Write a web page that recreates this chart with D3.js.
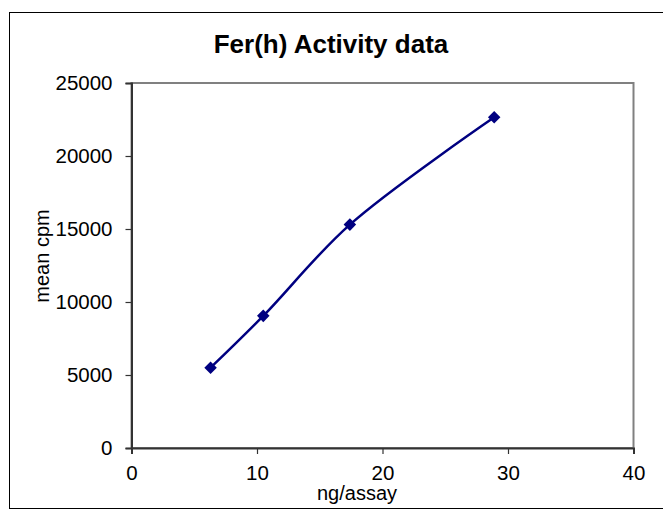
<!DOCTYPE html>
<html>
<head>
<meta charset="utf-8">
<script src="https://cdn.jsdelivr.net/npm/d3@7"></script>
<style>
  body { margin: 0; background: #fff; }
  text { font-family: "Liberation Sans", Arial, sans-serif; }
</style>
</head>
<body>
<svg width="663" height="516"></svg>
<script>
// data
const ngPerAssay = [6.3, 10.5, 17.4, 28.9];
const meanCpm = [5500, 9050, 15300, 22650];
const xTicks = [0, 10, 20, 30, 40];
const yTicks = [0, 5000, 10000, 15000, 20000, 25000];

const svg = d3.select("svg");
const plotLeft = 131.5, plotRight = 633.5, plotTop = 83, plotBottom = 448;

// outer frame
svg.append("rect")
    .attr("x", 9.5).attr("y", 12.5)
    .attr("width", 660).attr("height", 496)
    .attr("fill", "#fff").attr("stroke", "#000").attr("stroke-width", 1);

const x = d3.scaleLinear().domain([0, 40]).range([plotLeft, plotRight]);
const y = d3.scaleLinear().domain([0, 25000]).range([plotBottom, plotTop]);

// plot area border (gray top and right)
svg.append("rect")
    .attr("x", plotLeft).attr("y", plotTop)
    .attr("width", plotRight - plotLeft).attr("height", plotBottom - plotTop)
    .attr("fill", "none").attr("stroke", "#808080").attr("stroke-width", 2);

const xAxis = svg.append("g")
    .attr("transform", `translate(0, ${plotBottom})`)
    .call(d3.axisBottom(x).tickValues(xTicks).tickSize(6).tickPadding(11));
const yAxis = svg.append("g")
    .attr("transform", `translate(${plotLeft}, 0)`)
    .call(d3.axisLeft(y).tickValues(yTicks).tickSize(6).tickPadding(13).tickFormat(d3.format("d")));

[xAxis, yAxis].forEach(g => {
    g.select(".domain").attr("stroke", "#333").attr("stroke-width", 2);
    g.selectAll(".tick line").attr("stroke", "#333").attr("stroke-width", 1.2);
    g.selectAll(".tick text")
        .attr("font-family", "Liberation Sans, Arial, sans-serif")
        .attr("font-size", "20.5px").attr("fill", "#000");
});

// title
svg.append("text")
    .attr("x", 331).attr("y", 53)
    .attr("text-anchor", "middle")
    .attr("font-size", "26px").attr("font-weight", "bold")
    .text("Fer(h) Activity data");

// axis titles
svg.append("text")
    .attr("x", 357).attr("y", 500)
    .attr("text-anchor", "middle")
    .attr("font-size", "20px")
    .text("ng/assay");
svg.append("text")
    .attr("transform", "translate(49, 256) rotate(-90)")
    .attr("text-anchor", "middle")
    .attr("font-size", "20px")
    .text("mean cpm");

const points = ngPerAssay.map((d, i) => ({x: d, y: meanCpm[i]}));

const line = d3.line()
    .x(d => x(d.x))
    .y(d => y(d.y))
    .curve(d3.curveCatmullRom.alpha(0.5));

svg.append("path")
    .datum(points)
    .attr("d", line)
    .attr("fill", "none")
    .attr("stroke", "#000080")
    .attr("stroke-width", 2.5);

svg.selectAll(".marker")
    .data(points)
    .enter()
    .append("path")
    .attr("class", "marker")
    .attr("transform", d => `translate(${x(d.x)}, ${y(d.y)})`)
    .attr("d", d3.symbol().type(d3.symbolDiamond2).size(100))
    .attr("fill", "#000080");
</script>
</body>
</html>
